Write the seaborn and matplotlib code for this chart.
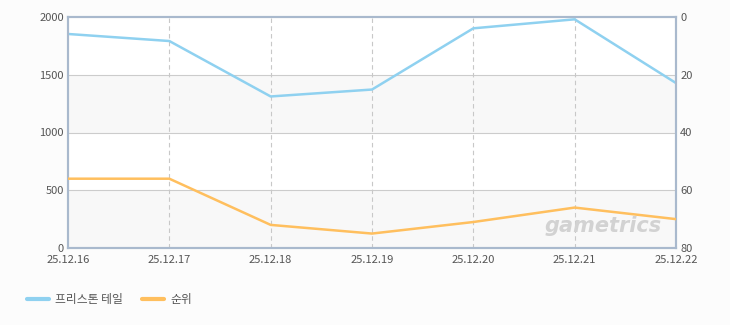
import matplotlib
matplotlib.use("Agg")
import matplotlib.pyplot as plt
import seaborn as sns
import pandas as pd

dates = ["25.12.16", "25.12.17", "25.12.18", "25.12.19", "25.12.20", "25.12.21", "25.12.22"]
users = [1853, 1792, 1312, 1372, 1902, 1980, 1428]
rank = [56, 56, 72, 75, 71, 66, 70]
series_names = ["프리스톤 테일", "순위"]
left_ticks = [0, 500, 1000, 1500, 2000]
right_ticks = [0, 20, 40, 60, 80]

sns.set_style("white")
plt.rcParams['font.family'] = ['Noto Sans CJK KR', 'DejaVu Sans']

blue = "#8FD1F0"
orange = "#FFBF5E"
bg = "#FCFCFC"
spine_c = "#A9B9CD"
txt_c = "#555555"

fig = plt.figure(figsize=(7.3, 3.25), dpi=100, facecolor=bg)
ax = fig.add_axes([68/730, 1-248/325, (676-68)/730, (248-17)/325])
ax.set_facecolor("white")

df = pd.DataFrame({"x": list(range(len(dates))), "users": users, "rank": rank})

# alternating bands
for lo, hi in [(0, 500), (1000, 1500)]:
    ax.axhspan(lo, hi, color="#F8F8F8", zorder=0, lw=0)
for yv in [500, 1000, 1500]:
    ax.axhline(yv, color="#CCCCCC", lw=0.8, zorder=1)
for xv in range(1, len(dates) - 1):
    ax.axvline(xv, color="#C8C8C8", lw=0.8, ls=(0, (4, 3)), zorder=1)

sns.lineplot(data=df, x="x", y="users", ax=ax, color=blue, lw=1.8, zorder=3, legend=False)
ax.set_xlim(0, len(dates) - 1)
ax.set_ylim(0, 2000)
ax.set_yticks(left_ticks)
ax.set_yticklabels([str(t) for t in left_ticks])
ax.set_xticks(range(len(dates)))
ax.set_xticklabels(dates)
ax.set_xlabel("")
ax.set_ylabel("")
ax.tick_params(axis="both", length=0, labelsize=8, labelcolor=txt_c, pad=3)
ax.tick_params(axis="x", pad=5)

ax2 = ax.twinx()
sns.lineplot(data=df, x="x", y="rank", ax=ax2, color=orange, lw=1.8, zorder=3, legend=False)
ax2.set_ylim(80, 0)
ax2.set_yticks(right_ticks)
ax2.set_yticklabels([str(t) for t in right_ticks])
ax2.set_ylabel("")
ax2.tick_params(axis="y", length=0, labelsize=8, labelcolor=txt_c, pad=3)

for a in (ax, ax2):
    for s in a.spines.values():
        s.set_color(spine_c)
        s.set_linewidth(1.5)

ax.text(0.977, 0.05, "gametrics", transform=ax.transAxes, ha="right", va="bottom",
        fontsize=15, fontstyle="italic", fontweight="bold", color="#D2D2D2",
        family="DejaVu Sans", zorder=2)

# legend
from matplotlib.lines import Line2D
handles = [Line2D([0], [0], color=blue, lw=3), Line2D([0], [0], color=orange, lw=3)]
fig.legend(handles, series_names, loc="center left", bbox_to_anchor=(16/730, 1-300/325),
           ncol=2, frameon=False, fontsize=8.5, labelcolor=txt_c, handlelength=1.9,
           handletextpad=0.5, columnspacing=1.6)

fig.savefig("out.png", dpi=100, facecolor=bg)
